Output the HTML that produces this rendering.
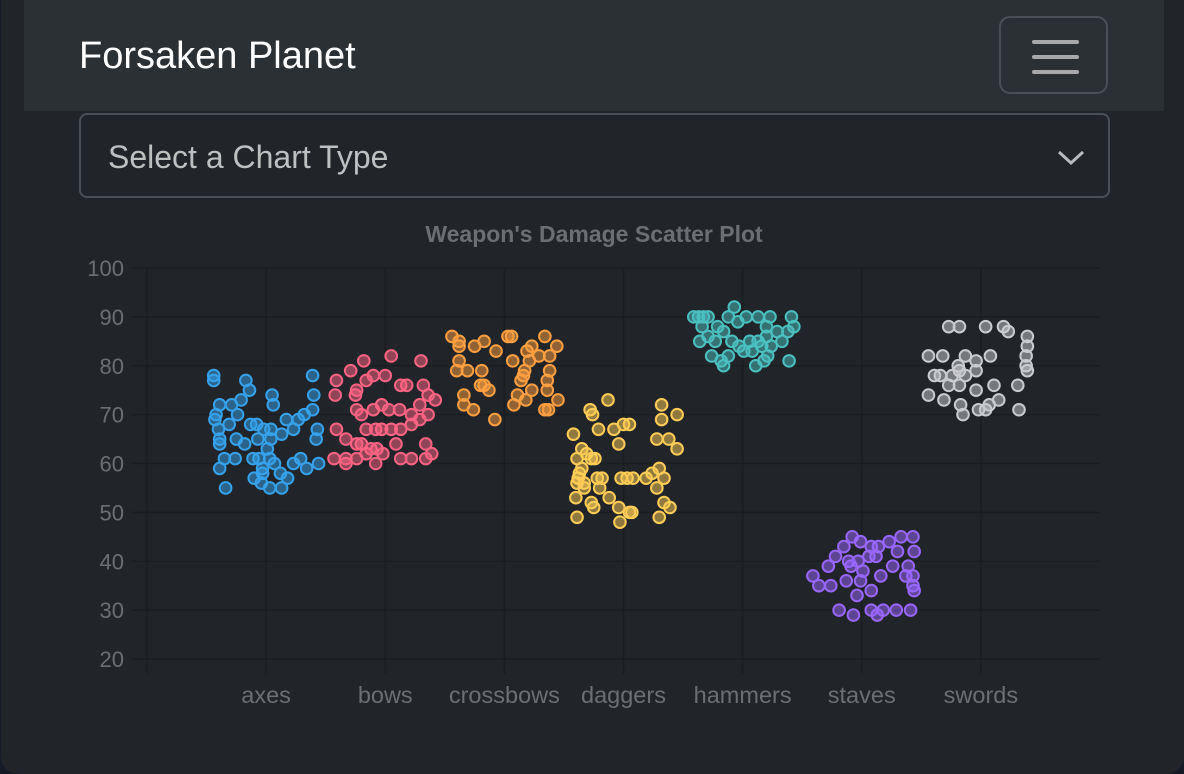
<!DOCTYPE html>
<html><head><meta charset="utf-8"><style>
html,body{margin:0;padding:0;background:#161b28;}
body{width:1184px;height:774px;overflow:hidden;position:relative;font-family:"Liberation Sans",sans-serif;}
#page{position:absolute;left:1px;top:0;width:1183px;height:774px;background:#212529;border-radius:0 0 18px 18px;}
#nav{position:absolute;left:23px;top:0;width:1140px;height:111px;background:#2b3035;}
#brand{position:absolute;left:55px;top:35px;font-size:38px;color:#fff;}
#toggler{position:absolute;left:975px;top:16px;width:109px;height:78px;border:2px solid #4a4f55;border-radius:11px;box-sizing:border-box;}
#toggler span{position:absolute;left:31px;width:47px;height:4px;border-radius:2px;background:#a6a8aa;}
#select{position:absolute;left:78px;top:113px;width:1031px;height:85px;border:2px solid #495057;border-radius:8px;box-sizing:border-box;background:#212529;}
#select .t{position:absolute;left:27px;top:24px;font-size:32px;color:#bdbfc1;}
#chart{position:absolute;left:0;top:0;}
</style></head><body>
<div id="page">
<div id="nav">
  <div id="brand">Forsaken Planet</div>
  <div id="toggler"><span style="top:22px"></span><span style="top:37px"></span><span style="top:52px"></span></div>
</div>
<div id="select"><div class="t">Select a Chart Type</div>
<svg style="position:absolute;left:975px;top:33px" width="30" height="20"><polyline points="3,4 15,15 27,4" fill="none" stroke="#b8babc" stroke-width="3"/></svg></div>
</div>
<svg id="chart" width="1184" height="774"></svg>
<script>
const categories=["axes","bows","crossbows","daggers","hammers","staves","swords"];
const yTicks=[20,30,40,50,60,70,80,90,100];
const colors=["54,162,235","255,99,132","255,159,64","255,205,86","75,192,192","153,102,255","201,203,207"];
const axesPts=[[78,-.44],[77,-.44],[77,-.17],[75,-.14],[74,.05],[72,.06],[72,-.39],[72,-.29],[73,-.21],[70,-.42],[69,-.43],[70,-.24],[68,-.13],[67,-.40],[68,-.31],[68,-.08],[67,-.02],[67,.04],[69,.17],[69,.27],[70,.32],[67,.23],[65,-.07],[65,-.39],[65,-.25],[64,-.18],[63,.01],[65,.04],[66,.13],[71,.39],[78,.39],[74,.40],[67,.43],[65,.42],[64,-.39],[61,-.35],[61,-.26],[61,-.11],[61,-.06],[61,.03],[60,.07],[60,.23],[61,.29],[59,.34],[60,.44],[59,-.39],[55,-.34],[57,-.10],[56,-.04],[55,.03],[55,.13],[58,.12],[57,.18],[58,-.03],[59,-.03]];
const bowsPts=[[77,-.41],[74,-.42],[79,-.29],[81,-.18],[82,.05],[81,.30],[75,-.24],[77,-.16],[78,-.10],[78,0],[76,.13],[76,.18],[76,.32],[74,.36],[72,.29],[73,.42],[74,-.25],[71,-.24],[70,-.20],[71,-.10],[72,-.03],[71,.03],[71,.12],[70,.22],[69,.29],[70,.36],[67,-.41],[65,-.33],[64,-.24],[67,-.16],[67,-.08],[67,-.03],[67,.05],[67,.13],[68,.22],[61,-.43],[61,-.33],[61,-.24],[62,-.16],[63,-.07],[62,-.02],[61,.13],[61,.22],[64,.34],[62,.39],[61,.34],[60,-.08],[60,-.33],[64,-.20],[63,-.12],[64,.09]];
const crossbowsPts=[[86,-.44],[85,-.38],[84,-.38],[84,-.25],[85,-.17],[86,.03],[86,.06],[86,.34],[84,.44],[83,-.07],[83,.19],[84,.23],[81,-.38],[81,.07],[81,.21],[82,.29],[82,.38],[79,-.31],[79,-.19],[79,.17],[79,.38],[79,-.40],[78,.16],[77,.14],[77,.36],[76,-.17],[75,-.13],[75,.23],[75,.36],[74,-.34],[72,-.34],[71,-.26],[71,.34],[71,.37],[72,.08],[69,-.08],[74,.11],[73,.18],[73,.45],[76,-.20]];
const daggersPts=[[73,-.13],[71,-.28],[70,-.26],[66,-.42],[67,-.21],[67,-.08],[68,.05],[68,0],[64,-.04],[72,.32],[69,.32],[70,.45],[65,.28],[65,.38],[63,.45],[63,-.35],[62,-.31],[61,-.27],[61,-.24],[61,-.39],[59,-.35],[57,-.38],[56,-.33],[56,-.39],[55,-.33],[57,-.22],[55,-.20],[57,-.18],[53,-.12],[53,-.40],[52,-.27],[49,-.39],[51,-.04],[48,-.03],[50,.05],[50,.07],[57,-.02],[57,.03],[57,.19],[58,.24],[59,.30],[57,.34],[55,.28],[52,.34],[51,.39],[49,.30],[57,.08],[51,-.25],[58,-.37]];
const hammersPts=[[90,-.41],[90,-.37],[90,-.33],[90,-.29],[88,-.34],[88,-.21],[92,-.07],[90,.03],[90,.13],[90,.23],[90,.41],[90,-.12],[89,-.04],[85,-.36],[86,-.29],[85,-.23],[87,-.16],[85,-.09],[84,-.03],[82,-.26],[81,-.18],[80,-.16],[82,-.12],[85,.06],[85,.13],[84,.16],[82,.21],[84,.24],[87,.29],[87,.38],[88,.43],[81,.39],[80,.11],[81,.18],[86,.20],[85,.33],[83,.08],[83,.01],[88,.20]];
const stavesPts=[[37,-.41],[35,-.36],[35,-.26],[39,-.28],[41,-.22],[43,-.15],[45,-.08],[44,-.01],[43,.08],[43,.14],[44,.23],[45,.33],[45,.43],[42,.30],[42,.44],[40,-.11],[39,-.09],[40,-.03],[41,.06],[41,.12],[39,.26],[39,.39],[37,.37],[37,.43],[36,-.13],[36,-.01],[34,.08],[33,-.04],[30,-.19],[29,-.07],[30,.08],[29,.13],[30,.18],[30,.29],[30,.41],[34,.44],[35,.43],[37,.16],[38,.01]];
const swordsPts=[[82,-.44],[82,-.32],[80,-.19],[82,-.13],[81,-.04],[82,.08],[88,-.27],[88,-.18],[88,.04],[88,.19],[87,.23],[86,.39],[84,.39],[82,.38],[80,.38],[79,.39],[78,-.39],[78,-.34],[78,-.24],[79,-.18],[78,-.13],[76,-.27],[76,-.18],[75,-.04],[76,.11],[76,.31],[74,-.44],[73,-.31],[73,.15],[72,-.17],[71,-.02],[72,.07],[70,-.15],[71,.04],[71,.32],[79,-.04]];
const series=[axesPts,bowsPts,crossbowsPts,daggersPts,hammersPts,stavesPts,swordsPts];

const NS="http://www.w3.org/2000/svg";
const svg=document.getElementById('chart');
const L=147,R=1100,T=268,B=659,yMin=20,yMax=100;
const band=(R-L)/(categories.length+1);
function xScale(i){return L+(i+1)*band;}
function yScale(v){return B-(v-yMin)/(yMax-yMin)*(B-T);}
function mk(tag,attrs){const e=document.createElementNS(NS,tag);for(const k in attrs)e.setAttribute(k,attrs[k]);svg.appendChild(e);return e;}
const grid="#1b1e21";
const title=mk('text',{x:594,y:242,'text-anchor':'middle','font-size':23,'font-weight':'bold',fill:'#6c6f72','font-family':'Liberation Sans, sans-serif'});
title.textContent="Weapon's Damage Scatter Plot";


yTicks.forEach(v=>{
  const y=yScale(v);
  const g=mk('line',{x1:131,x2:R,y1:y,y2:y,stroke:grid,'stroke-width':1.5});
  
  
  const t=mk('text',{x:124,y:y+8,'text-anchor':'end','font-size':22,fill:'#6c6f72','font-family':'Liberation Sans, sans-serif'});
  t.textContent=v;
  
  
});
const ax=mk('line',{x1:L,x2:L,y1:T,y2:B+15,stroke:grid,'stroke-width':1.5});


categories.forEach((c,i)=>{
  const x=xScale(i);
  const g=mk('line',{x1:x,x2:x,y1:T,y2:B+15,stroke:grid,'stroke-width':1.5});
  
  
  const t=mk('text',{x:x,y:703,'text-anchor':'middle','font-size':23.5,fill:'#6c6f72','font-family':'Liberation Sans, sans-serif'});
  t.textContent=c;
  
  
});
series.forEach((pts,i)=>{
  pts.forEach(p=>{
    const cx=xScale(i+p[1]);
    const c=mk('circle',{cx:cx,cy:yScale(p[0]),r:5.8,fill:'rgba('+colors[i]+',0.5)',stroke:'rgb('+colors[i]+')','stroke-width':2});
    
    
  });
});
</script>
</body></html>
